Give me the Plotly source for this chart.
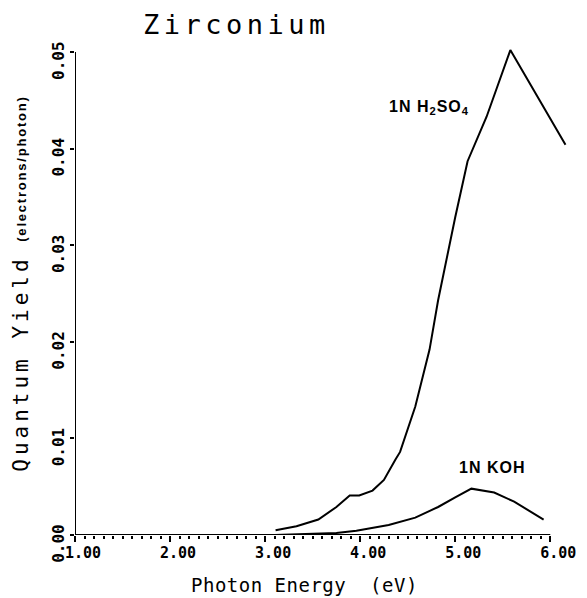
import plotly.graph_objects as go

# Photoemission quantum yield of zirconium in two electrolytes
h2so4_energy = [3.11, 3.33, 3.56, 3.75, 3.89, 3.99, 4.13, 4.25, 4.37, 4.42,
                4.58, 4.73, 4.82, 5.00, 5.13, 5.33, 5.58, 6.16]
h2so4_yield = [0.0005, 0.0009, 0.0016, 0.0029, 0.0041, 0.0041, 0.0046, 0.0057, 0.0078, 0.0086,
               0.0133, 0.0192, 0.0243, 0.0329, 0.0387, 0.0433, 0.0502, 0.0404]

koh_energy = [3.10, 3.50, 3.75, 3.96, 4.30, 4.58, 4.82, 5.00, 5.17, 5.41, 5.62, 5.93]
koh_yield = [0.0000, 0.0001, 0.0002, 0.00045, 0.00104, 0.0018, 0.0029, 0.0039, 0.0048, 0.0044, 0.00345, 0.0016]

x_ticks = [1, 2, 3, 4, 5, 6]
x_tick_text = ["1.00", "2.00", "3.00", "4.00", "5.00", "6.00"]
y_ticks = [0.00, 0.01, 0.02, 0.03, 0.04, 0.05]
y_tick_text = ["0.00", "0.01", "0.02", "0.03", "0.04", "0.05"]

MONO = "DejaVu Sans Mono"
SANS = "Liberation Sans"

fig = go.Figure()
fig.add_trace(go.Scatter(x=h2so4_energy, y=h2so4_yield, mode="lines",
                         line=dict(color="black", width=2), name="1N H2SO4"))
fig.add_trace(go.Scatter(x=koh_energy, y=koh_yield, mode="lines",
                         line=dict(color="black", width=2), name="1N KOH"))

# axis lines stop at the last labelled tick
fig.add_shape(type="line", xref="x", yref="y", x0=x_ticks[0], x1=x_ticks[-1], y0=0, y1=0,
              line=dict(color="black", width=2))
fig.add_shape(type="line", xref="x", yref="y", x0=x_ticks[0], x1=x_ticks[0], y0=0, y1=y_ticks[-1],
              line=dict(color="black", width=2))

fig.update_xaxes(range=[1, 6.197], showgrid=False, zeroline=False, showline=False,
                 tickvals=x_ticks, ticktext=x_tick_text, ticks="outside", ticklen=6,
                 tickwidth=2, tickcolor="black", ticklabelshift=8, ticklabelstandoff=-2,
                 tickfont=dict(family=MONO, size=15, color="black", weight="bold"),
                 minor=dict(tickvals=[1 + i / 10 for i in range(1, 50) if i % 10],
                            ticks="outside", ticklen=3, tickwidth=2, tickcolor="black"))
fig.update_yaxes(range=[0, 0.05104], showgrid=False, zeroline=False, showline=False,
                 tickvals=y_ticks, ticktext=y_tick_text, ticks="outside", ticklen=4,
                 tickwidth=2, tickcolor="black", tickangle=-90, ticklabelshift=11,
                 tickfont=dict(family=MONO, size=16, color="black", weight="bold"))

annotations = [
    dict(text='<span style="letter-spacing:4.5px">Zirconium</span>', xref="paper", yref="paper",
         x=0.3274, y=1.0345, font=dict(family=MONO, size=27, color="black")),
    dict(text='<span style="letter-spacing:0.5px">Photon Energy  (eV)</span>', xref="paper", yref="paper",
         x=0.465, y=-0.1014, font=dict(family=MONO, size=19, color="black")),
    dict(text='<span style="letter-spacing:4px">Quantum Yield</span>', xref="paper", yref="paper",
         x=-0.1098, y=0.3469, textangle=-90, font=dict(family=MONO, size=21, color="black")),
    dict(text='<span style="letter-spacing:1.8px">(electrons/photon)</span>', xref="paper", yref="paper",
         x=-0.1098, y=0.7444, textangle=-90,
         font=dict(family=SANS, size=13, color="black", weight="bold")),
    dict(text='<span style="letter-spacing:1px">1N H<sub>2</sub>SO<sub>4</sub></span>',
         xref="x", yref="y", x=4.724, y=0.0443,
         font=dict(family=SANS, size=16, color="black", weight="bold")),
    dict(text='<span style="letter-spacing:1px">1N KOH</span>', xref="x", yref="y", x=5.388, y=0.00694,
         font=dict(family=SANS, size=16, color="black", weight="bold")),
]
for a in annotations:
    a["showarrow"] = False
    a["xanchor"] = "center"
    a["yanchor"] = "middle"

fig.update_layout(width=587, height=598, margin=dict(l=75, r=11, t=42, b=63),
                  paper_bgcolor="white", plot_bgcolor="white", showlegend=False,
                  annotations=annotations)

fig.write_html("out.html")
